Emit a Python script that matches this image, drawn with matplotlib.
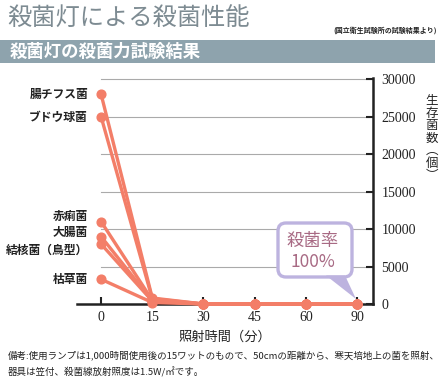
import matplotlib.pyplot as plt
from matplotlib.patches import FancyBboxPatch, Polygon, Rectangle

plt.rcParams['font.family'] = ['Noto Sans CJK JP', 'DejaVu Sans']

# data
times = ['0', '15', '30', '45', '60', '90']
bacteria = ['腸チフス菌', 'ブドウ球菌', '赤痢菌', '大腸菌', '結核菌（鳥型）', '枯草菌']
typhoid = [28000, 800, 0, 0, 0, 0]
staph = [25000, 700, 0, 0, 0, 0]
dysentery = [11000, 500, 0, 0, 0, 0]
ecoli = [9000, 400, 0, 0, 0, 0]
tb = [8000, 400, 0, 0, 0, 0]
subtilis = [3300, 200, 0, 0, 0, 0]
series = [typhoid, staph, dysentery, ecoli, tb, subtilis]
yticks = [0, 5000, 10000, 15000, 20000, 25000, 30000]

# label nudges in pixels, + = lower (so labels don't collide)
label_dy = [0, 1, -5, -4, 6, 0]

line_c = '#f37e68'
dark = '#222222'
H = 383

fig = plt.figure(figsize=(4.45, 3.83), dpi=100)
ax = fig.add_axes([77/445, 1-304/H, (373-77)/445, (304-78)/H])
px = fig.dpi_scale_trans  # inches, 1 inch = 100 px


def P(x, y):
    # pixel (from top-left) -> inches
    return x/100, (H-y)/100


x = list(range(len(times)))
for ys in series:
    ax.plot(x, ys, color=line_c, lw=2.4, marker='o', ms=6.3, zorder=3, clip_on=False)

for t in yticks[1:]:
    ax.plot([0, 5.4], [t, t], color='#aaaaaa', lw=0.8, zorder=1)

ax.set_xlim(-0.47, 5.31)
ax.set_ylim(0, 30150)
ax.set_xticks(x)
ax.set_xticklabels(times, family='Liberation Serif', fontsize=10, color=dark)
ax.yaxis.tick_right()
ax.set_yticks(yticks)
ax.set_yticklabels([str(v) for v in yticks], family='Liberation Serif', fontsize=10, color=dark)
ax.tick_params(axis='both', direction='in', length=5, width=1.5, color=dark, pad=5)
ax.tick_params(axis='y', pad=6)
for s in ['top', 'left']:
    ax.spines[s].set_visible(False)
for s in ['bottom', 'right']:
    ax.spines[s].set_linewidth(1.8)
    ax.spines[s].set_color(dark)

# labels for each bacteria on left
for name, ys, dy in zip(bacteria, series, label_dy):
    ax.annotate(name, (0, ys[0]), xytext=(-9.4, -dy * 0.72), textcoords='offset points',
                ha='right', va='center', fontsize=8.5, fontweight='bold', color=dark)

ax.set_xlabel('照射時間（分）', fontsize=9.5, color=dark, labelpad=5)
fig.text(432/445, 1-138/H, '生\n存\n菌\n数\n︵\n個\n︶', ha='center', va='center',
         fontsize=9, color=dark, linespacing=0.95)

# callout
lav = '#bdb3df'
bx, by = P(278, 277)
box = FancyBboxPatch((bx, by), 0.74, 0.54, transform=px,
                     boxstyle='round,pad=0,rounding_size=0.08', fc='white', ec=lav, lw=2.4, zorder=5)
fig.patches.append(box)
tri = Polygon([P(326, 275.5), P(345, 275.5), P(356, 299)],
              closed=True, transform=px, fc=lav, ec='none', zorder=6)
fig.patches.append(tri)
fig.text(313/445, 1-251.5/H, '殺菌率\n100%', ha='center', va='center', fontsize=12.5,
         color='#a86a84', linespacing=1.25, zorder=7)

# title area
fig.text(7/445, 1-19/H, '殺菌灯による殺菌性能', ha='left', va='center', fontsize=17.5, color='#7d8b92')
fig.text(437/445, 1-30/H, '(国立衛生試験所の試験結果より)', ha='right', va='center',
         fontsize=5, fontweight='bold', color=dark)
fig.patches.append(Rectangle((0, 1-63/H), 435/445, 23/H, transform=fig.transFigure,
                             fc='#8ea3ad', ec='none'))
fig.text(10/445, 1-51.5/H, '殺菌灯の殺菌力試験結果', ha='left', va='center', fontsize=12.5,
         fontweight='bold', color='white')

# footnote
fig.text(8/445, 1-355/H, '備考:使用ランプは1,000時間使用後の15ワットのもので、50cmの距離から、寒天培地上の菌を照射、',
         ha='left', va='center', fontsize=6.85, color=dark)
fig.text(8/445, 1-372/H, '器具は笠付、殺菌線放射照度は1.5W/㎡です。',
         ha='left', va='center', fontsize=6.85, color=dark)

fig.savefig('out.png', dpi=100)
